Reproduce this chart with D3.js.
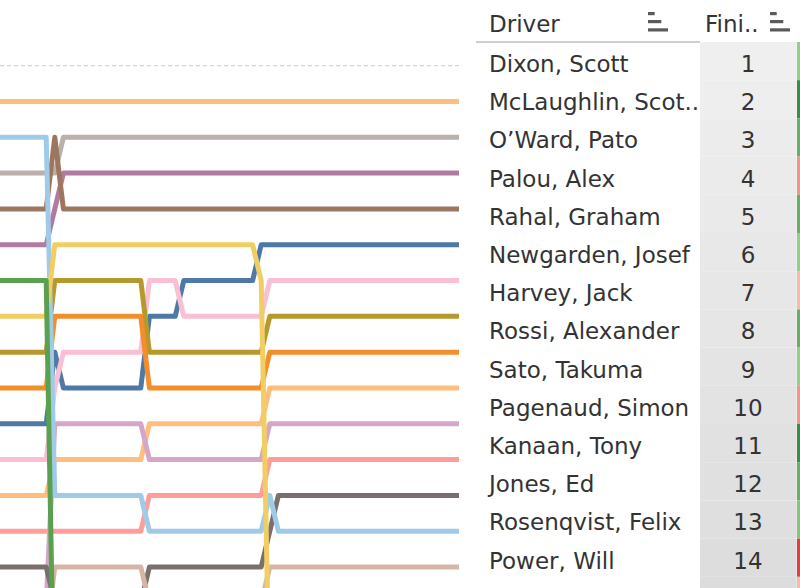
<!DOCTYPE html>
<html><head><meta charset="utf-8">
<script src="https://cdn.jsdelivr.net/npm/d3@7"></script>
<style>body{margin:0;background:#fff;} svg{display:block;}</style>
</head><body>
<svg id="c" width="800" height="588"></svg>
<script>
// ---- data ----
const laps = [1,2,3,4,5,6,7,8,9,10,11,12,13,14,15,16,17,18,19,20,21,22,23,24,25,26,27,28,29,30,
  31,32,33,34,35,36,37,38,39,40,41,42,43,44,45,46,47,48,49,50,51,52,53,54,55];

// running position per lap (visible tail of the race)
const rankMcLaughlin = [2,2,2,2,2,2,2, 2, 2,2,2,2,2,2,2,2,2,2, 2,2,2,2, 2,2,2,2,2,2,2,2,2, 2, 2, 2,2,2,2,2,2,2,2,2,2,2,2,2,2,2,2,2,2,2,2,2,2];
const rankOWard     = [4,4,4,4,4,4,4, 4, 3,3,3,3,3,3,3,3,3,3, 3,3,3,3, 3,3,3,3,3,3,3,3,3, 3, 3, 3,3,3,3,3,3,3,3,3,3,3,3,3,3,3,3,3,3,3,3,3,3];
const rankPalou     = [6,6,6,6,6,6,6, 5, 4,4,4,4,4,4,4,4,4,4, 4,4,4,4, 4,4,4,4,4,4,4,4,4, 4, 4, 4,4,4,4,4,4,4,4,4,4,4,4,4,4,4,4,4,4,4,4,4,4];
const rankRahal     = [5,5,5,5,5,5,5, 3, 5,5,5,5,5,5,5,5,5,5, 5,5,5,5, 5,5,5,5,5,5,5,5,5, 5, 5, 5,5,5,5,5,5,5,5,5,5,5,5,5,5,5,5,5,5,5,5,5,5];
const rankNewgarden = [11,11,11,11,11,11,11, 9, 10,10,10,10,10,10,10,10,10,10, 8,8,8,8, 7,7,7,7,7,7,7,7,7, 6, 6, 6,6,6,6,6,6,6,6,6,6,6,6,6,6,6,6,6,6,6,6,6,6];
const rankHarvey    = [12,12,12,12,12,12,12, 10, 9,9,9,9,9,9,9,9,9,9, 7,7,7,7, 8,8,8,8,8,8,8,8,8, 8, 7, 7,7,7,7,7,7,7,7,7,7,7,7,7,7,7,7,7,7,7,7,7,7];
const rankRossi     = [9,9,9,9,9,9,9, 7, 7,7,7,7,7,7,7,7,7,7, 9,9,9,9, 9,9,9,9,9,9,9,9,9, 9, 8, 8,8,8,8,8,8,8,8,8,8,8,8,8,8,8,8,8,8,8,8,8,8];
const rankSato      = [10,10,10,10,10,10,10, 8, 8,8,8,8,8,8,8,8,8,8, 10,10,10,10, 10,10,10,10,10,10,10,10,10, 10, 9, 9,9,9,9,9,9,9,9,9,9,9,9,9,9,9,9,9,9,9,9,9,9];
const rankPagenaud  = [13,13,13,13,13,13,13, 12, 12,12,12,12,12,12,12,12,12,12, 11,11,11,11, 11,11,11,11,11,11,11,11,11, 11, 10, 10,10,10,10,10,10,10,10,10,10,10,10,10,10,10,10,10,10,10,10,10,10];
const rankKanaan    = [16,16,16,16,16,16,16, 11, 11,11,11,11,11,11,11,11,11,11, 12,12,12,12, 12,12,12,12,12,12,12,12,12, 12, 11, 11,11,11,11,11,11,11,11,11,11,11,11,11,11,11,11,11,11,11,11,11,11];
const rankJones     = [14,14,14,14,14,14,14, 14, 14,14,14,14,14,14,14,14,14,14, 13,13,13,13, 13,13,13,13,13,13,13,13,13, 13, 12, 12,12,12,12,12,12,12,12,12,12,12,12,12,12,12,12,12,12,12,12,12,12];
const rankRosenqvist= [15,15,15,15,15,15,15, 16, 16,16,16,16,16,16,16,16,16,16, 15,15,15,15, 15,15,15,15,15,15,15,15,15, 15, 14, 13,13,13,13,13,13,13,13,13,13,13,13,13,13,13,13,13,13,13,13,13,13];
const rankPower     = [3,3,3,3,3,3,3, 13, 13,13,13,13,13,13,13,13,13,13, 14,14,14,14, 14,14,14,14,14,14,14,14,14, 14, 13, 14,14,14,14,14,14,14,14,14,14,14,14,14,14,14,14,14,14,14,14,14,14];
const rankP15       = [17,17,17,17,17,17,17, 15, 15,15,15,15,15,15,15,15,15,15, 16,16,16,16, 16,16,16,16,16,16,16,16,16, 16, 15, 15,15,15,15,15,15,15,15,15,15,15,15,15,15,15,15,15,15,15,15,15,15];
const rankYellow    = [8,8,8,8,8,8,8, 6, 6,6,6,6,6,6,6,6,6,6, 6,6,6,6, 6,6,6,6,6,6,6,6,6, 7, 19, 19,19,19,19,19,19,19,19,19,19,19,19,19,19,19,19,19,19,19,19,19,19];
const rankGreen     = [7,7,7,7,7,7,7, 20, 20,20,20,20,20,20,20,20,20,20, 20,20,20,20, 20,20,20,20,20,20,20,20,20, 20, 20, 20,20,20,20,20,20,20,20,20,20,20,20,20,20,20,20,20,20,20,20,20,20];

const seriesNames  = ["McLaughlin","O'Ward","Palou","Rahal","Newgarden","Harvey","Rossi","Sato","Pagenaud","Kanaan","Jones","Rosenqvist","Power","P15","Yellow","Green"];
const seriesRanks  = [rankMcLaughlin,rankOWard,rankPalou,rankRahal,rankNewgarden,rankHarvey,rankRossi,rankSato,rankPagenaud,rankKanaan,rankJones,rankRosenqvist,rankPower,rankP15,rankYellow,rankGreen];
const seriesColors = ["#ffbe7d","#bab0ac","#b07aa1","#9d7660","#4e79a7","#fabfd2","#b6992d","#f28e2b","#ffbe7d","#d4a6c8","#ff9d9a","#79706e","#a0cbe8","#d7b5a6","#f1ce63","#59a14f"];
const leaderRank = 1;

// table
const drivers = ["Dixon, Scott","McLaughlin, Scot..","O\u2019Ward, Pato","Palou, Alex","Rahal, Graham","Newgarden, Josef","Harvey, Jack","Rossi, Alexander","Sato, Takuma","Pagenaud, Simon","Kanaan, Tony","Jones, Ed","Rosenqvist, Felix","Power, Will"];
const finish = [1,2,3,4,5,6,7,8,9,10,11,12,13,14];
const nextColumn = [2,8,5,-3,5,2,-1,5,2,-3,8,5,3,-8,-1]; // cut-off column colours (positions gained)

// ---- drawing ----
const svg = d3.select("#c");
const x = d3.scaleLinear().domain([laps[0], laps[laps.length-1]]).range([-5.4, 459]);
const y = d3.scaleLinear().domain([1, 15]).range([65.7, 567]);

const chart = svg.append("g");
chart.append("line")
  .attr("x1", 0).attr("x2", 459)
  .attr("y1", y(leaderRank)).attr("y2", y(leaderRank))
  .attr("stroke", "#c8c8c8").attr("stroke-width", 1).attr("stroke-dasharray", "4,3");

const line = d3.line().x((d,i)=>x(laps[i])).y(d=>y(d));
seriesRanks.forEach((r, k) => {
  chart.append("path")
    .datum(r)
    .attr("d", line)
    .attr("fill", "none")
    .attr("stroke", seriesColors[k])
    .attr("stroke-width", 5)
    .attr("stroke-linejoin", "round")
    .attr("stroke-linecap", "butt")
    .attr("data-name", seriesNames[k]);
});

// table
const font = "DejaVu Sans";
const fs = 23;
const rowTop = 42, rowH = 38.2;
const band = i => rowTop + rowH * i;
const cellColor = d3.scaleLinear().domain([1, 15]).range(["#efefef", "#dcdcdc"]);
const divColor = d3.scaleLinear().domain([-8, -1, 1, 8]).range(["#dc4040", "#f6b9aa", "#a3d993", "#3d8c45"]);

const tbl = svg.append("g");
const nRows = nextColumn.length;
for (let i = 0; i < nRows; i++) {
  tbl.append("rect").attr("x", 700).attr("y", band(i)).attr("width", 96.7).attr("height", rowH)
    .attr("fill", cellColor(i + 1));
  tbl.append("rect").attr("x", 797).attr("y", band(i)).attr("width", 3).attr("height", rowH)
    .attr("fill", divColor(nextColumn[i]));
}
tbl.append("line").attr("x1", 476).attr("x2", 700).attr("y1", 42).attr("y2", 42)
  .attr("stroke", "#cfcfcf").attr("stroke-width", 2);

tbl.selectAll("text.drv").data(drivers).join("text")
  .attr("class","drv")
  .attr("x", 489).attr("y", (d,i) => band(i) + 30)
  .attr("font-family", font).attr("font-size", fs).attr("fill", "#333")
  .text(d => d);
tbl.selectAll("text.fin").data(finish).join("text")
  .attr("class","fin")
  .attr("x", 748).attr("y", (d,i) => band(i) + 30)
  .attr("text-anchor", "middle")
  .attr("font-family", font).attr("font-size", fs).attr("fill", "#333")
  .text(d => d);

tbl.append("text").attr("x", 489).attr("y", 32).attr("font-family", font).attr("font-size", fs)
  .attr("fill", "#333").text("Driver");
tbl.append("text").attr("x", 705).attr("y", 32).attr("font-family", font).attr("font-size", fs)
  .attr("fill", "#333").text("Fini..");

function sortIcon(x0) {
  const g = tbl.append("g");
  [[12, 6.7], [20, 13.3], [28.3, 20]].forEach(([yy, w]) => {
    g.append("rect").attr("x", x0).attr("y", yy).attr("width", w).attr("height", 3.2).attr("fill", "#5a5a5a");
  });
}
sortIcon(648);
sortIcon(770);
</script>
</body></html>
